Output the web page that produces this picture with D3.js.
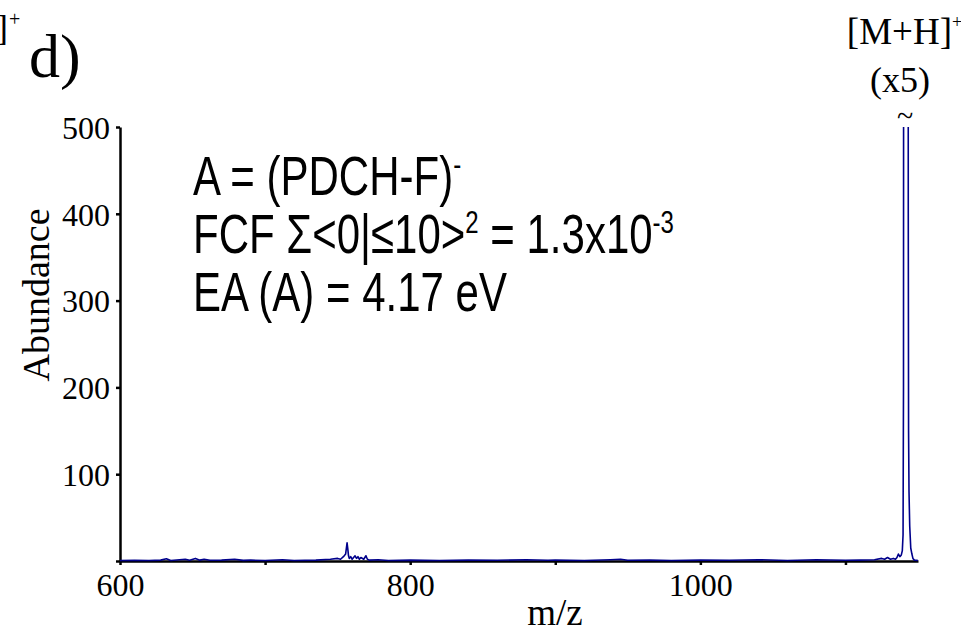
<!DOCTYPE html>
<html>
<head>
<meta charset="utf-8">
<script src="https://cdn.jsdelivr.net/npm/d3@7"></script>
<style>
  html, body { margin: 0; padding: 0; background: #fff; }
  svg { display: block; }
  .serif { font-family: "Liberation Serif", "Times New Roman", serif; fill: #000; }
  .sans { font-family: "Liberation Sans", Arial, sans-serif; fill: #000; }
</style>
</head>
<body>
<svg id="chart" width="961" height="635"></svg>
<script>
// Mass spectrum, panel d): m/z against abundance ([M+H]+ peak shown x5, clipped at top)
const mz = [
  600, 610, 620, 628, 632, 635, 645, 648, 652, 655, 658, 662, 670, 679, 685, 690,
  700, 712, 720, 735, 745, 750, 752, 754, 755.5, 756.5, 757, 757.5, 758, 759, 760,
  761, 762, 763, 764, 765, 766, 768, 769.5, 770.5, 772, 778, 785, 800, 820, 840,
  860, 880, 895, 900, 920, 938, 945, 950, 965, 980, 1000, 1020, 1040, 1060, 1080,
  1100, 1110, 1120, 1125, 1127, 1129, 1131, 1133, 1134.5, 1135.5, 1136.5, 1137.5,
  1138.5, 1139.2, 1139.7, 1140.0, 1140.2, 1141.7, 1143.1, 1143.3, 1143.5, 1143.8,
  1144.3, 1145, 1145.8, 1146.5, 1147.5, 1150
];
const abundance = [
  0.5, 0.8, 0.5, 1, 2.5, 0.6, 2, 0.8, 3, 1, 2, 0.8, 1, 2, 0.7, 1,
  0.6, 1.5, 0.6, 1, 2, 3, 2, 5, 8, 21, 14, 6, 3, 5, 2,
  4, 6, 3, 5, 2, 4, 2, 6, 2, 1, 1.5, 0.6, 1, 0.6, 1,
  0.8, 1.5, 0.8, 1, 0.6, 1.5, 2, 0.8, 1, 0.6, 1, 0.8, 1.5, 0.6, 1.5,
  0.8, 1, 1.5, 3, 2, 4, 2, 3, 2, 4, 8, 5,
  7, 12, 30, 200, 1200, 2500, 1200, 400, 150, 80,
  40, 15, 8, 3, 1, 0.5
];

const xTicks = [600, 700, 800, 900, 1000, 1100];
const xTickLabels = ["600", "", "800", "", "1000", ""];
const yTicks = [0, 100, 200, 300, 400, 500];
const yTickLabels = ["", "100", "200", "300", "400", "500"];

const svg = d3.select("#chart");

const x = d3.scaleLinear().domain([600, 1150]).range([120, 918]);
const y = d3.scaleLinear().domain([0, 500]).range([561, 127]);

// clip region for the spectrum trace
svg.append("defs").append("clipPath").attr("id", "plotClip")
  .append("rect")
  .attr("x", x(600)).attr("y", y(500))
  .attr("width", x(1150) - x(600) + 2)
  .attr("height", y(0) - y(500) + 2);

// axes
const xAxis = d3.axisBottom(x)
  .tickValues(xTicks)
  .tickSizeInner(4).tickSizeOuter(0).tickPadding(8)
  .tickFormat((d, i) => xTickLabels[i]);
const yAxis = d3.axisLeft(y)
  .tickValues(yTicks)
  .tickSizeInner(4).tickSizeOuter(0).tickPadding(6)
  .tickFormat((d, i) => yTickLabels[i]);

const gx = svg.append("g").attr("transform", `translate(0,${y(0)})`).call(xAxis);
const gy = svg.append("g").attr("transform", `translate(${x(600)},0)`).call(yAxis);

[gx, gy].forEach(g => {
  g.select(".domain").attr("stroke", "#000").attr("stroke-width", 2.5);
  g.selectAll(".tick line").attr("stroke", "#000").attr("stroke-width", 2.5);
  g.selectAll(".tick text")
    .attr("class", "serif")
    .attr("font-size", 32)
    .attr("fill", "#000");
});
gx.selectAll(".tick text").attr("dy", "0.71em");
gy.selectAll(".tick text").attr("dy", "0.35em");

// spectrum trace
const pts = mz.map((m, i) => [m, abundance[i]]);
const line = d3.line().x(d => x(d[0])).y(d => y(d[1]));
svg.append("path")
  .datum(pts)
  .attr("clip-path", "url(#plotClip)")
  .attr("fill", "none")
  .attr("stroke", "#00008b")
  .attr("stroke-width", 1.6)
  .attr("stroke-linejoin", "round")
  .attr("d", line);

// axis titles
svg.append("text").attr("class", "serif")
  .attr("x", 555).attr("y", 625)
  .attr("text-anchor", "middle").attr("font-size", 37)
  .text("m/z");
svg.append("text").attr("class", "serif")
  .attr("transform", "translate(49,295) rotate(-90)")
  .attr("text-anchor", "middle").attr("font-size", 38)
  .text("Abundance");

// panel letter
svg.append("text").attr("class", "serif")
  .attr("x", 29).attr("y", 77).attr("font-size", 62)
  .text("d)");

// neighbouring panel's peak label (cut at the left edge)
svg.append("text").attr("class", "serif")
  .attr("x", 8).attr("y", 40).attr("font-size", 36).attr("text-anchor", "end")
  .text("[M+H]");
svg.append("text").attr("class", "serif")
  .attr("x", 9).attr("y", 26).attr("font-size", 20).text("+");

// peak label
svg.append("text").attr("class", "serif")
  .attr("x", 952).attr("y", 44).attr("font-size", 37).attr("text-anchor", "end")
  .text("[M+H]");
svg.append("text").attr("class", "serif")
  .attr("x", 952).attr("y", 28).attr("font-size", 18).text("+");
svg.append("text").attr("class", "serif")
  .attr("x", 900).attr("y", 92).attr("font-size", 36).attr("text-anchor", "middle")
  .text("(x5)");
svg.append("text").attr("class", "serif")
  .attr("x", 905).attr("y", 126).attr("font-size", 30).attr("text-anchor", "middle")
  .text("~");

// annotation block
const ann = [
  { y: 195, parts: [["A = (PDCH-F)", false], ["-", true]] },
  { y: 253, parts: [["FCF \u03A3<0|\u226410>", false], ["2", true], [" = 1.3x10", false], ["-3", true]] },
  { y: 311, parts: [["EA (A) = 4.17 eV", false]] }
];
ann.forEach(row => {
  const t = svg.append("text").attr("class", "sans")
    .attr("transform", `translate(193,${row.y}) scale(1,1.33)`)
    .attr("font-size", 42);
  row.parts.forEach(([s, sup]) => {
    const ts = t.append("tspan").text(s);
    if (sup) ts.attr("font-size", 24).attr("baseline-shift", "65%");
  });
});
</script>
</body>
</html>
